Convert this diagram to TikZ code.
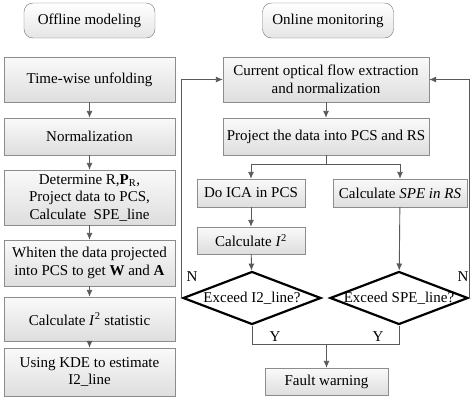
\documentclass[tikz,border=0pt]{standalone}
\usepackage{fontspec}
\setmainfont{Liberation Serif}
\usepackage{tikz}
\usetikzlibrary{arrows.meta}
\usetikzlibrary{shapes.geometric}
\usetikzlibrary{positioning}
\tikzset{head/.style={rectangle,rounded corners=9pt,draw=black!55,top color=white,bottom color=black!10,minimum width=131pt,minimum height=35pt}}
\tikzset{proc/.style={rectangle,draw=black!45,top color=black!2,bottom color=black!13,align=center,inner sep=2pt}}
\tikzset{test/.style={diamond,draw=black,line width=2.2pt,fill=white,inner sep=0pt,minimum width=138pt,minimum height=53pt}}
\tikzset{flow/.style={draw=black!65,line width=0.9pt,-{Latex[length=7pt,width=6pt]}}}
\tikzset{link/.style={draw=black!65,line width=0.9pt}}

\begin{document}
\begin{tikzpicture}[x=1pt,y=-1pt,font=\fontsize{15}{17.5}\selectfont]
\useasboundingbox (0,0) rectangle (474,400);
% headings
\node[head] (offline) at (89.5,20.5) {Offline modeling};
\node[head] (online) at (328,20.5) {Online monitoring};
% offline column
\node[proc,minimum width=171pt,minimum height=45pt] (unfold) at (89.5,79.5) {Time-wise unfolding};
\node[proc,minimum width=171pt,minimum height=37pt] (norm) at (89.5,136.5) {Normalization};
\node[proc,minimum width=171pt,minimum height=55pt] (determ) at (89.5,197.5) {Determine R,\textbf{P}\textsubscript{R},\\Project data to PCS,\\Calculate\ \ SPE\_line};
\node[proc,minimum width=171pt,minimum height=46pt] (whiten) at (89.5,263) {Whiten the data projected\\into PCS to get \textbf{W} and \textbf{A}};
\node[proc,minimum width=171pt,minimum height=44pt] (stat) at (89.5,319) {Calculate \textit{I}\textsuperscript{2} statistic};
\node[proc,minimum width=171pt,minimum height=48pt] (kde) at (89.5,372) {Using KDE to estimate\\I2\_line};
\foreach \a/\b in {unfold/norm,norm/determ,determ/whiten,whiten/stat,stat/kde} {
	\draw[flow] (\a) -- (\b);
}
% online column
\node[proc,minimum width=206pt,minimum height=45pt] (current) at (326,79.5) {Current optical flow extraction\\and normalization};
\node[proc,minimum width=206pt,minimum height=37pt] (project) at (326,136.5) {Project the data into PCS and RS};
\node[proc,minimum width=108pt,minimum height=28pt] (ica) at (251,193) {Do ICA in PCS};
\node[proc,minimum width=134pt,minimum height=28pt] (spe) at (400,193) {Calculate \textit{SPE in RS}};
\node[proc,minimum width=108pt,minimum height=27pt] (calc) at (251,240.5) {Calculate \textit{I}\textsuperscript{2}};
\node[test] (exI) at (252,298) {};
\node at (exI) {Exceed I2\_line?};
\node[test] (exS) at (399,298) {};
\node at (exS) {Exceed SPE\_line?};
\node[proc,minimum width=123pt,minimum height=27pt] (fault) at (326.5,381.5) {Fault warning};
\coordinate (split) at (326,164);
\coordinate (join) at (326.5,344);
\draw[flow] (current) -- (project);
\draw[link] (project) -- (split);
\draw[flow] (split) -| (ica);
\draw[flow] (split) -| (spe);
\draw[flow] (ica) -- (calc);
\draw[flow] (calc) -- (exI);
\draw[flow] (spe) -- (exS);
\draw[link] (exI.south) |- (join);
\draw[link] (exS.south) |- (join);
\draw[flow] (join) -- (fault);
\draw[flow] (exI.west) |- (current.west);
\draw[flow] (exS.east) |- (current.east);
% branch labels
\node (nI) at (192,277) {N};
\node (nS) at (463,277) {N};
\node (yI) at (275,337) {Y};
\node (yS) at (378,337) {Y};
\end{tikzpicture}
\end{document}
